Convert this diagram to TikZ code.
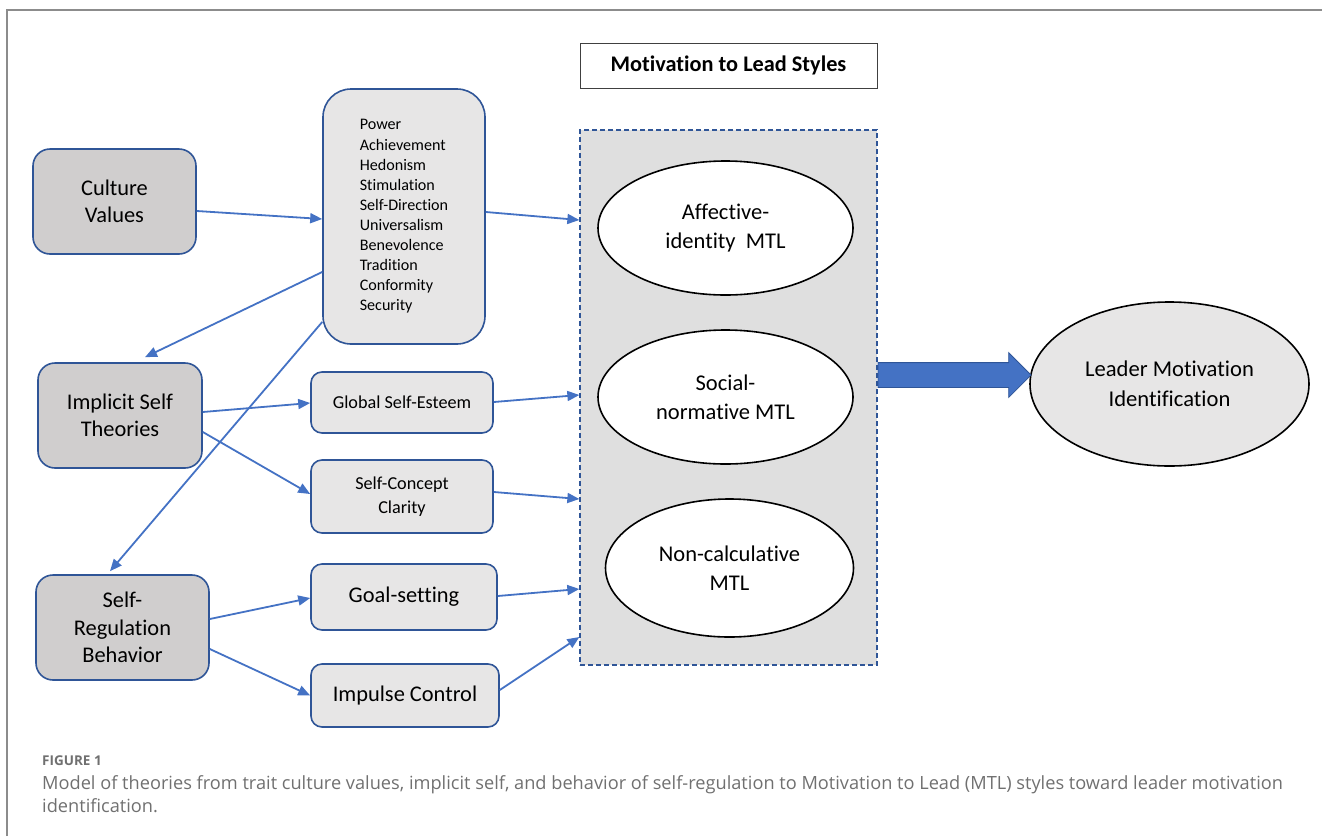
\documentclass[tikz,border=0pt]{standalone}
\usepackage{fontspec}
\setmainfont{Carlito}[Ligatures=NoCommon]
\newfontfamily\capfont{Open Sans}
\usetikzlibrary{positioning,arrows.meta}
\usetikzlibrary{shapes.geometric,shapes.arrows}

\definecolor{linkblue}{HTML}{4472C4}
\definecolor{edgeblue}{HTML}{2F5597}
\definecolor{darkfill}{HTML}{D0CECE}
\definecolor{lightfill}{HTML}{E7E6E6}
\definecolor{mtlfill}{HTML}{DFDFDF}
\definecolor{capgray}{HTML}{707070}

\tikzstyle{trait}=[draw=edgeblue, line width=1.6pt, rounded corners=17pt, fill=darkfill, align=center, inner sep=0pt, font=\fontsize{22.4}{27.5}\selectfont]
\tikzstyle{facet}=[draw=edgeblue, line width=1.6pt, rounded corners=11pt, fill=lightfill, align=center, inner sep=0pt]
\tikzstyle{mtlovl}=[draw, ellipse, fill=white, line width=1.6pt, inner sep=0pt, align=center, font=\fontsize{22.5}{29}\selectfont]

\begin{document}
\begin{tikzpicture}[x=1pt, y=-1pt, >={Triangle[length=12pt,width=10pt]},
	link/.style = {->, draw=linkblue, line width=1.8pt}]

	\useasboundingbox (0,0) rectangle (1322,836);
	\draw[black!45, line width=1.5pt] (7,836) -- (7,10) -- (1322,10);

	\node[trait, minimum width=163pt, minimum height=105pt] (culture) at (114.5,201.5) {Culture\\Values};
	\node[trait, minimum width=164pt, minimum height=105pt] (implicit) at (120,415.5) {Implicit Self\\Theories};
	\node[trait, minimum width=173pt, minimum height=105pt] (selfreg) at (122.5,627.5) {Self-\\Regulation\\Behavior};

	\node[facet, rounded corners=28pt, minimum width=162pt, minimum height=255pt, font=\fontsize{16.1}{20.1}\selectfont, align=left] (values) at (404,216.5)
	{Power\\Achievement\\Hedonism\\Stimulation\\Self-Direction\\Universalism\\Benevolence\\Tradition\\Conformity\\Security\hspace*{7pt}};
	\node[facet, minimum width=182pt, minimum height=61pt, font=\fontsize{18.2}{23}\selectfont] (global) at (402,402.5) {Global Self-Esteem};
	\node[facet, minimum width=182pt, minimum height=73pt, font=\fontsize{18.2}{23.3}\selectfont] (concept) at (402,496.5) {Self-Concept\\Clarity};
	\node[facet, minimum width=186pt, minimum height=66pt, font=\fontsize{22.4}{26}\selectfont] (goal) at (404,597) {Goal-setting};
	\node[facet, minimum width=188pt, minimum height=63pt, font=\fontsize{22.4}{26}\selectfont] (impulse) at (405,695.5) {Impulse Control};

	\node[draw=black!75, line width=0.8pt, minimum width=297pt, minimum height=45pt, font=\bfseries\fontsize{22.3}{26}\selectfont] (title) at (728.5,65.5) {Motivation to Lead Styles};
	\node[draw=edgeblue, fill=mtlfill, dash pattern=on 5pt off 3pt, line width=1.3pt, minimum width=297pt, minimum height=535pt, inner sep=0pt] (mtl) at (728.5,397.5) {};

	\node[mtlovl, minimum width=255pt, minimum height=134pt] (affect) at (725.5,228) {Affective-\\identity\ \ MTL};
	\node[mtlovl, minimum width=255pt, minimum height=134pt] (social) at (725.5,397) {Social-\\normative MTL};
	\node[mtlovl, minimum width=248pt, minimum height=138pt] (noncalc) at (729.5,568) {Non-calculative\\MTL};

	\node[draw, ellipse, fill=lightfill, line width=1.6pt, minimum width=279pt, minimum height=164pt, align=center, font=\fontsize{22.6}{30}\selectfont] (leader) at (1169.5,384) {Leader Motivation\\Identification};

	\node[single arrow, draw=edgeblue, fill=linkblue, line width=0.8pt, minimum height=153pt, single arrow head extend=10pt, single arrow head indent=0pt, inner sep=0pt, anchor=tail] (push) at ([yshift=22.5pt]mtl.east) {\rule{0pt}{24pt}};

	\draw[link] ([yshift=-9.5pt]culture.east) -- ([yshift=-2.5pt]values.west);
	\draw[link] ([yshift=4.5pt]values.east) -- ([yshift=177.5pt]mtl.west);
	\draw[link] ([yshift=-55.5pt]values.west) -- ([xshift=25pt,yshift=5pt]implicit.north);
	\draw[link] ([yshift=-105.5pt]values.west) -- ([xshift=-12.5pt,yshift=3pt]selfreg.north);
	\draw[link] ([yshift=3.5pt]implicit.east) -- ([yshift=-0.5pt]global.west);
	\draw[link] ([yshift=-16.5pt]implicit.east) -- ([yshift=2.5pt]concept.west);
	\draw[link] ([yshift=0.5pt]global.east) -- ([yshift=2.5pt]mtl.west);
	\draw[link] ([yshift=4.5pt]concept.east) -- ([yshift=-101.5pt]mtl.west);
	\draw[link] ([yshift=8.5pt]selfreg.east) -- ([yshift=-1pt]goal.west);
	\draw[link] ([yshift=-21.5pt]selfreg.east) -- (impulse.west);
	\draw[link] ([yshift=1pt]goal.east) -- ([yshift=-191.5pt]mtl.west);
	\draw[link] ([yshift=5.5pt]impulse.east) -- ([yshift=-239.5pt]mtl.west);

	\node[anchor=base west, inner sep=0pt, text=capgray, font=\capfont\bfseries\fontsize{13.5}{16}\selectfont] (fig) at (42,765) {FIGURE 1};
	\node[anchor=base west, inner sep=0pt, text=capgray, font=\capfont\fontsize{18.2}{23}\selectfont] (cap1) at (42,789) {Model of theories from trait culture values, implicit self, and behavior of self-regulation to Motivation to Lead (MTL) styles toward leader motivation};
	\node[anchor=base west, inner sep=0pt, text=capgray, font=\capfont\fontsize{18.2}{23}\selectfont] (cap2) at (42,812) {identification.};

\end{tikzpicture}
\end{document}
